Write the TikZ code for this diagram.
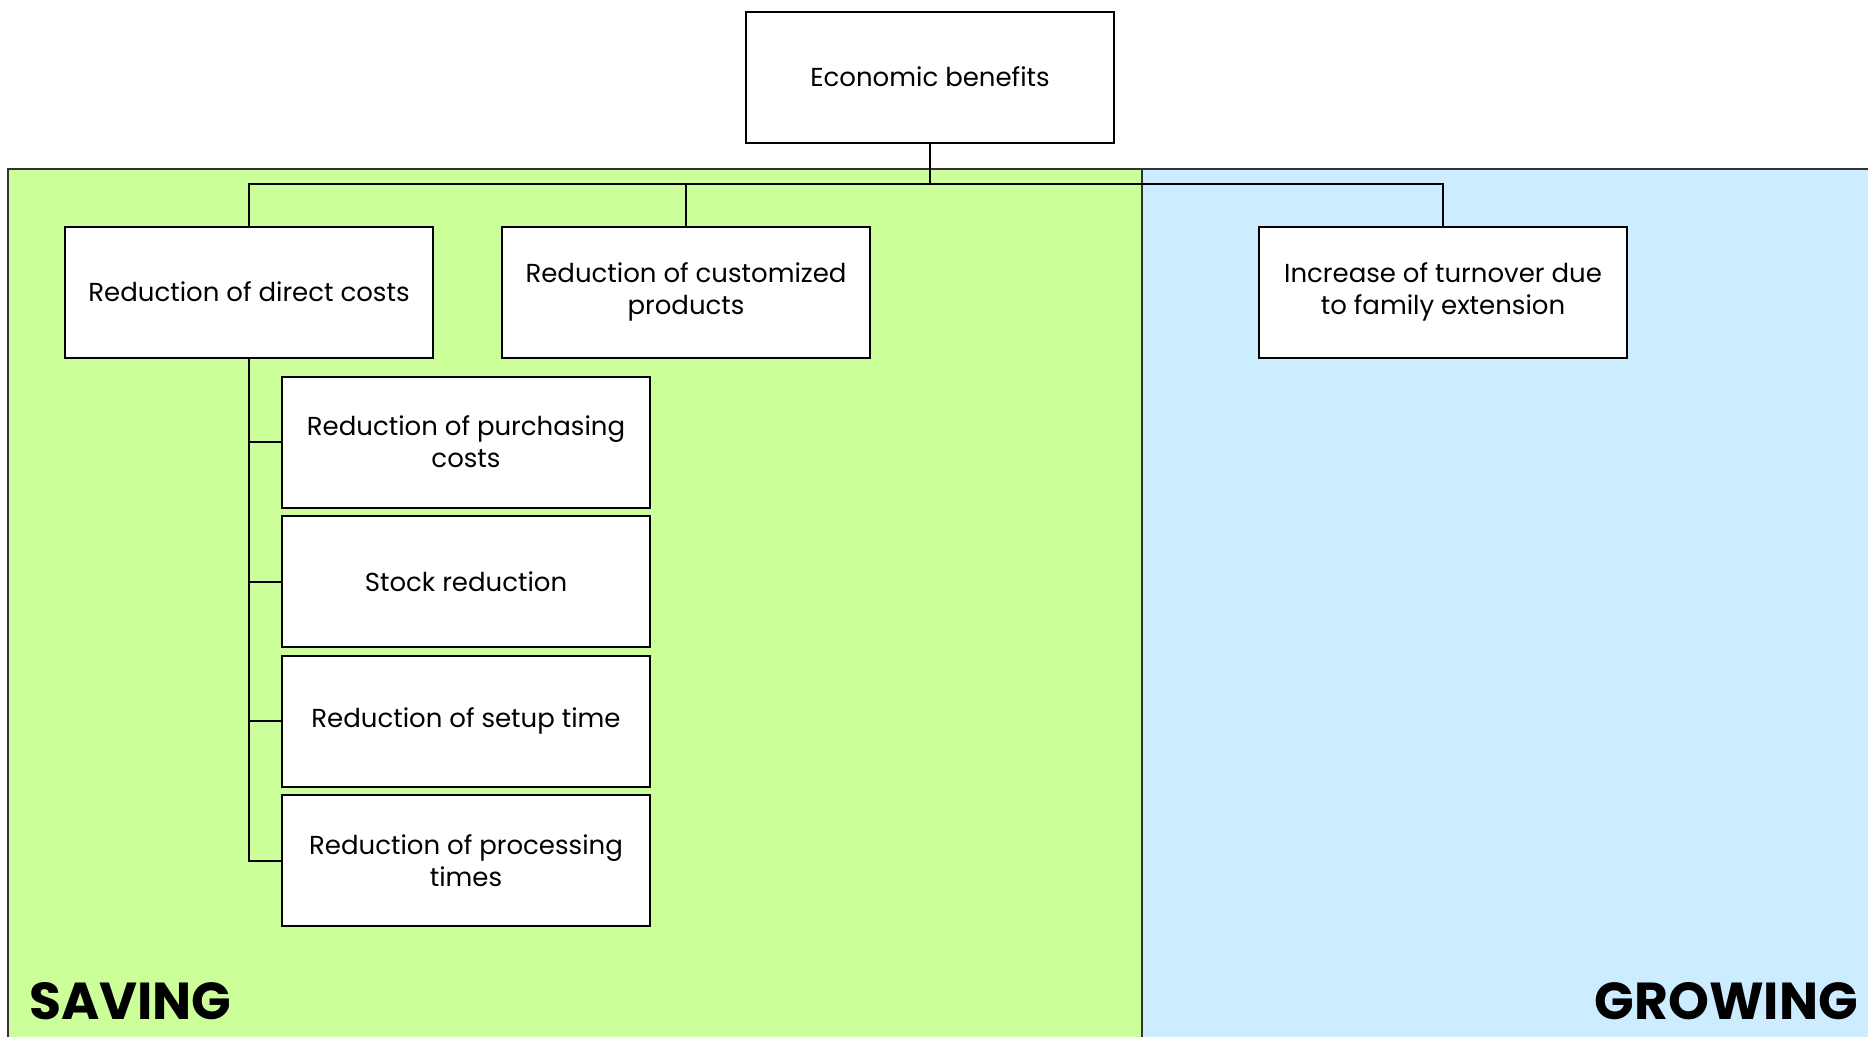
\documentclass[tikz,border=0pt]{standalone}
\usepackage{fontspec}
\setmainfont{Poppins}
\usetikzlibrary{positioning}

\tikzset{
    benefit/.style={draw=black, line width=2pt, fill=white, minimum width=368pt,
        minimum height=131pt, align=center, inner sep=0pt,
        font=\fontsize{26}{32}\selectfont},
    link/.style={draw=black, line width=2pt},
    panelline/.style={draw=black!80, line width=2pt},
    sidelabel/.style={font=\fontsize{52}{58}\selectfont\bfseries, inner sep=0pt}
}

\begin{document}
\begin{tikzpicture}[x=1pt, y=1pt]
    % Colori dei pannelli
    \definecolor{savingbg}{RGB}{204,255,153}
    \definecolor{growingbg}{RGB}{204,236,255}

    \useasboundingbox (0,0) rectangle (1868,-1037);

    % Pannelli di sfondo
    \fill[savingbg] (8,-169) rectangle (1142,-1037);
    \fill[growingbg] (1142,-169) rectangle (1868,-1037);
    \draw[panelline] (8,-1037) -- (8,-169) -- (1868,-169);
    \draw[panelline] (1142,-169) -- (1142,-1037);

    % Radice
    \node[benefit] (econ) at (930,-77) {Economic benefits};

    % Primo livello
    \node[benefit] (direct) at (249,-292) {Reduction of direct costs};
    \node[benefit] (custom) at (686,-292) {Reduction of customized\\products};
    \node[benefit] (turnover) at (1443,-292) {Increase of turnover due\\to family extension};

    % Secondo livello
    \node[benefit] (purch) at (466,-442) {Reduction of purchasing\\costs};
    \node[benefit, below=6.5pt of purch] (stock) {Stock reduction};
    \node[benefit, below=6.5pt of stock] (setup) {Reduction of setup time};
    \node[benefit, below=6.5pt of setup] (proc) {Reduction of processing\\times};

    % Collegamenti
    \coordinate (bus) at (0,-183.5);
    \draw[link] (econ.south) -- (econ.south |- bus);
    \draw[link] (direct.north) |- (turnover.north |- bus) -- (turnover.north);
    \draw[link] (custom.north) -- (custom.north |- bus);
    \draw[link] (direct.south) |- (proc.west);
    \foreach \sub in {purch, stock, setup}
        \draw[link] (direct.south |- \sub.west) -- (\sub.west);

    % Etichette
    \node[sidelabel, anchor=base west] (saving) at (29,-1019) {SAVING};
    \node[sidelabel, anchor=base east] (growing) at (1858,-1019) {GROWING};
\end{tikzpicture}
\end{document}
